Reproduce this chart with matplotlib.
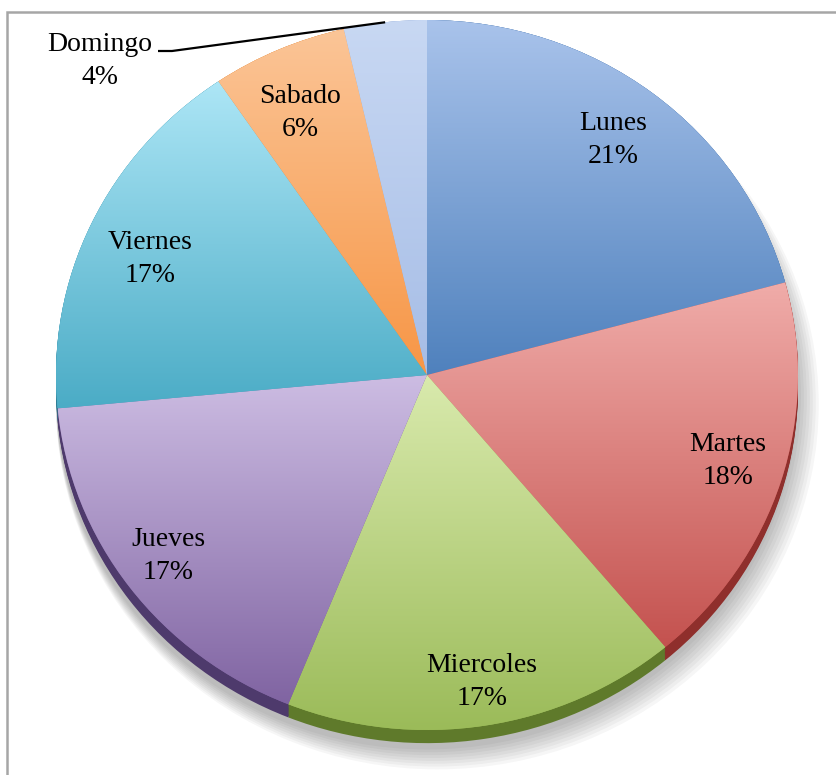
import numpy as np
import matplotlib.pyplot as plt
from matplotlib.colors import LinearSegmentedColormap
from matplotlib.patches import Rectangle

# Distribucion por dia de la semana
days = ['Lunes', 'Martes', 'Miercoles', 'Jueves', 'Viernes', 'Sabado', 'Domingo']
shares = [20.8, 18.1, 17.2, 17.4, 17.0, 5.9, 3.6]

# gradient colours (top, bottom) and side colour for each slice
top_colors = ['#a9c3eb', '#f0aca9', '#d9eaad', '#cdbde3', '#ade6f6', '#fbc597', '#c8d8f3']
bottom_colors = ['#4f81bd', '#c4524f', '#9bbb59', '#8064a2', '#4bacc6', '#f79646', '#a6bde6']
side_colors = ['#3a6397', '#8f2f2c', '#5f7a2b', '#4e3a6c', '#2f7f96', '#c06a1c', '#7a95c4']

# pie placement in pixels
cx, cy, rx, ry = 427, 375, 371, 355

# label positions (pixels)
label_px = [(613, 140), (728, 461), (482, 682), (168, 556),
            (150, 259), (300, 113), (100, 61)]

plt.rcParams['font.family'] = ['Liberation Serif', 'DejaVu Serif']

fig = plt.figure(figsize=(8.37, 7.75), dpi=100)
ax = fig.add_axes([0, 0, 1, 1])

# soft shadow under the pie
for k in range(8):
    ax.pie([1], radius=1.0 + 0.004 * k, center=(0.004 * k, -0.055 - 0.004 * k),
           colors=['#000000'], startangle=90, counterclock=False,
           wedgeprops=dict(alpha=0.035, linewidth=0))

# side of the 3D pie
for dy in np.linspace(0.037, 0.0, 12):
    ax.pie(shares, center=(0, -dy), colors=side_colors, startangle=90,
           counterclock=False, wedgeprops=dict(linewidth=0))

# top face
wedges, texts = ax.pie(shares, colors=bottom_colors, startangle=90,
                       counterclock=False, wedgeprops=dict(linewidth=0))

grad = np.linspace(0, 1, 256).reshape(-1, 1)
for w, c_top, c_bot in zip(wedges, top_colors, bottom_colors):
    ext = w.get_path().get_extents()
    cmap = LinearSegmentedColormap.from_list('g', [c_top, c_bot])
    im = ax.imshow(grad, cmap=cmap, aspect='auto', origin='upper',
                   extent=(ext.x0, ext.x1, ext.y0, ext.y1), zorder=2)
    im.set_clip_path(w)

for (name, v), (px, py) in zip(zip(days, shares), label_px):
    ax.text((px - cx) / rx, (cy - py) / ry, f'{name}\n{round(v):.0f}%',
            ha='center', va='center', fontsize=20, linespacing=1.4, zorder=5)

# leader line for Domingo
w = wedges[-1]
mid = np.deg2rad((w.theta1 + w.theta2) / 2)
ax.plot([(158 - cx) / rx, (172 - cx) / rx, np.cos(mid)],
        [(cy - 51) / ry, (cy - 51) / ry, np.sin(mid)],
        color='black', lw=1.6, zorder=5, solid_capstyle='butt')

ax.set_aspect('auto')
ax.set_xlim(-cx / rx, (837 - cx) / rx)
ax.set_ylim((cy - 775) / ry, cy / ry)
ax.axis('off')

# chart border
fig.patches.append(Rectangle((7 / 837, -0.05), 1.2, 0.05 + (775 - 12) / 775,
                             transform=fig.transFigure, fill=False,
                             edgecolor='#a6a6a6', lw=1.8))

fig.savefig('out.png', dpi=100)
